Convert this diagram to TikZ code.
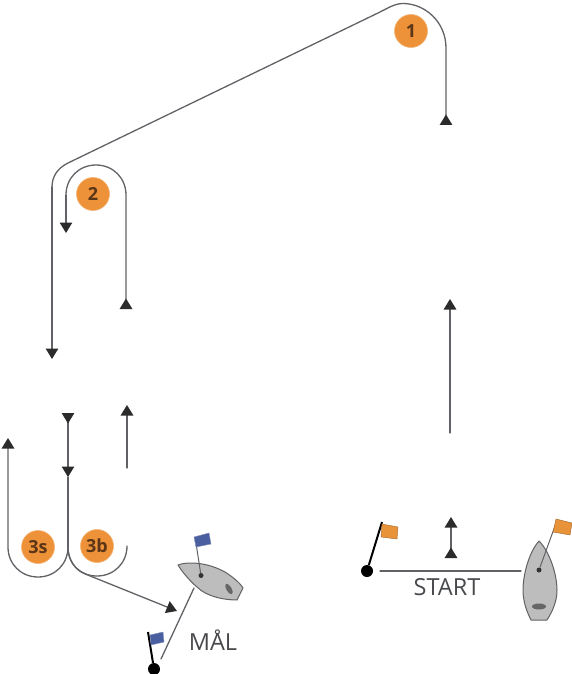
\documentclass[tikz,border=0pt]{standalone}
\usepackage{fontspec}
\setmainfont{Open Sans}
\usetikzlibrary{arrows.meta}
\definecolor{linegray}{HTML}{606266}
\definecolor{tipdark}{HTML}{2B2B2B}
\definecolor{markorange}{HTML}{EE9239}
\definecolor{marktext}{HTML}{5B3517}
\definecolor{hullgray}{HTML}{BDBDBD}
\definecolor{flagblue}{HTML}{4A5FA0}
\definecolor{flagorange}{HTML}{E8933A}
\tikzset{
  x=1pt,y=-1pt,
  course/.style={draw=linegray,line width=1.3pt,line cap=round},
  tipfwd/.tip={Triangle[width=12.5pt,length=10.5pt,color=tipdark]},
  tiprev/.tip={Triangle[width=12.5pt,length=10.5pt,color=tipdark,reversed]},
  markdisc/.style={circle,fill=markorange,draw=markorange!70,line width=0.6pt,minimum size=33pt,inner sep=0pt,text=marktext,font=\bfseries\fontsize{18}{18}\selectfont},
  hull/.style={draw=linegray,fill=hullgray,line width=1pt,line join=round},
  pole/.style={draw=black,line width=2pt},
  thinpole/.style={draw=linegray,line width=1pt},
  pin/.style={circle,fill=black,minimum size=12pt,inner sep=0pt},
  lab/.style={text=linegray!75!black,font=\fontsize{23.5}{23.5}\selectfont,inner sep=0pt},
  bluefl/.style={fill=flagblue,draw=flagblue!70,line width=0.4pt},
  orangefl/.style={fill=flagorange,draw=flagorange!70!black,line width=0.4pt},
  dotn/.style={circle,fill=black!80,minimum size=5pt,inner sep=0pt},
}
\begin{document}
\begin{tikzpicture}
\useasboundingbox (0,0) rectangle (572,674);
% named points
\coordinate (leg1s) at (446,125);
\coordinate (leg1a) at (446,48);
\coordinate (leg1t) at (403,3.5);
\coordinate (leg1b) at (378,13);
\coordinate (leg1c) at (68,163);
\coordinate (leg1d) at (52,187);
\coordinate (leg1e) at (52,359);
\coordinate (leg2s) at (126,309);
\coordinate (leg2a) at (126,195);
\coordinate (leg2t) at (96,165);
\coordinate (leg2b) at (66,195);
\coordinate (leg2e) at (66,233);
\coordinate (up1s) at (127,468);
\coordinate (up1e) at (127,405);
\coordinate (mids) at (68,413);
\coordinate (midm) at (68,477);
\coordinate (mida) at (68,547);
\coordinate (lefts) at (8,438);
\coordinate (lefta) at (8,547);
\coordinate (leftb) at (38,577);
\coordinate (rightb) at (97,576);
\coordinate (righte) at (127,546);
\coordinate (fin1) at (85.3,574);
\coordinate (fin2) at (177,611);
\coordinate (st1) at (451,517);
\coordinate (st2) at (451,558);
\coordinate (up2s) at (450,433);
\coordinate (up2e) at (450,299);
% course
\draw[course,{tiprev}-] (leg1s) -- (leg1a) .. controls (446,22) and (425,3.5) .. (leg1t) .. controls (395,3.5) and (388,8) .. (leg1b) -- (leg1c) .. controls (58,168) and (52,176) .. (leg1d);
\draw[course,-{tipfwd}] (leg1d) -- (leg1e);
\draw[course,{tiprev}-] (leg2s) -- (leg2a) .. controls (126,178) and (113,165) .. (leg2t) .. controls (79,165) and (66,178) .. (leg2b);
\draw[course,-{tipfwd}] (leg2b) -- (leg2e);
\draw[course,-{tipfwd}] (up1s) -- (up1e);
\draw[course,{tiprev}-{tipfwd}] (mids) -- (midm);
\draw[course] (midm) -- (mida);
\draw[course,{tipfwd}-] (lefts) -- (lefta) .. controls (8,564) and (21,577) .. (leftb) .. controls (55,577) and (68,564) .. (mida);
\draw[course] (mida) .. controls (68,564) and (80,576) .. (rightb) .. controls (114,576) and (127,563) .. (righte);
\draw[course] (mida) .. controls (68,559.75) and (74.75,569.7) .. (fin1);
\draw[course,-{tipfwd}] (fin1) -- (fin2);
% start arrows
\draw[course,{tipfwd}-{tiprev}] (st1) -- (st2);
\draw[course,-{tipfwd}] (up2s) -- (up2e);
% marks
\node[markdisc] (m1) at (411,31) {1};
\node[markdisc] (m2) at (93,194) {2};
\node[markdisc] (m3s) at (38,547) {3s};
\node[markdisc] (m3b) at (97,546) {3b};
% start line
\node[pin] (pinS) at (367,571) {};
\coordinate (poleS) at (382,522);
\draw[pole] (pinS) -- (poleS);
\fill[orangefl] (382,524) -- (398,527) -- (397,539) -- (381,537) -- cycle;
\path[hull] (539,541) .. controls (550,552) and (557,575) .. (557,590) .. controls (557,602) and (552,612) .. (547,620) -- (531,620) .. controls (527,612) and (523,602) .. (523,590) .. controls (523,575) and (529,552) .. (539,541) -- cycle;
\node[dotn] (mastS) at (539,570) {};
\coordinate (flagS) at (555,526);
\draw[thinpole] (mastS) -- (flagS);
\fill[orangefl] (556,519) -- (572,523) -- (570,535) -- (553,532) -- cycle;
\fill[black!60] (539,606.5) ellipse (7pt and 3pt);
\coordinate (lineSa) at (380,571);
\coordinate (lineSb) at (521,571);
\draw[course] (lineSa) -- (lineSb);
\node[lab] (start) at (447,587) {START};
% finish
\path[hull] (178,565) .. controls (185,562) and (205,561) .. (225,572) .. controls (233,577) and (240,583) .. (243,588) -- (237,600) .. controls (225,600) and (207,597) .. (197,587) .. controls (190,581) and (183,573) .. (178,565) -- cycle;
\node[dotn] (mastF) at (201,575.5) {};
\coordinate (flagF) at (196,543);
\draw[thinpole] (mastF) -- (flagF);
\fill[bluefl] (194,537) -- (209,533) -- (211,544) -- (196,547) -- cycle;
\fill[black!60,rotate around={-60:(229,589)}] (229,589) ellipse (6pt and 2.5pt);
\node[pin] (pinF) at (154,669) {};
\coordinate (poleF) at (148,632);
\draw[pole] (pinF) -- (poleF);
\fill[bluefl] (150,635) -- (163,632) -- (164,642) -- (151,645) -- cycle;
\coordinate (lineFa) at (194,588);
\coordinate (lineFb) at (161,659);
\draw[course] (lineFa) -- (lineFb);
\node[lab] (maal) at (213,640) {MÅL};
\end{tikzpicture}
\end{document}
